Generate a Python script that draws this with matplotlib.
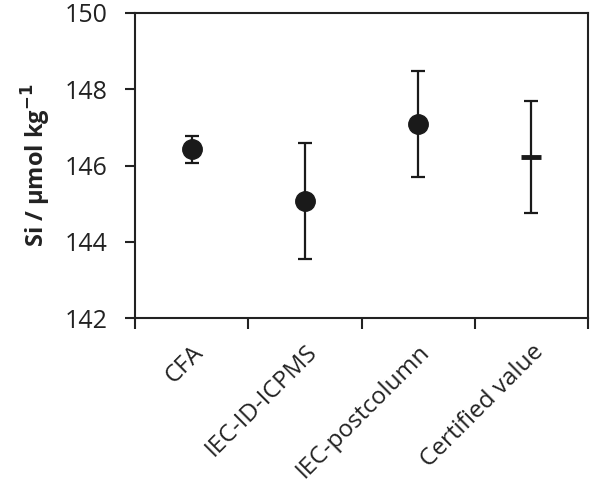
import matplotlib.pyplot as plt
import numpy as np

# Si measurements by method
methods = ["CFA", "IEC-ID-ICPMS", "IEC-postcolumn", "Certified value"]
si_values = [146.42, 145.06, 147.09, 146.22]
si_err = [0.35, 1.52, 1.40, 1.47]

plt.rcParams['font.family'] = ['Open Sans', 'DejaVu Sans']

fig = plt.figure(figsize=(5.93, 4.96), dpi=100)
ax = fig.add_axes([135 / 593, 1 - 318 / 496, (588 - 135) / 593, (318 - 13) / 496])

x = np.arange(len(methods)) + 0.5

# measured methods as circles
for i in range(3):
    ax.errorbar(x[i], si_values[i], yerr=si_err[i], fmt='o', color='#1a1a1a',
                markersize=14, elinewidth=1.6, capsize=5, capthick=1.6, zorder=3)

# certified value as a dash
ax.errorbar(x[3], si_values[3], yerr=si_err[3], fmt='none', ecolor='#1a1a1a',
            elinewidth=1.6, capsize=5, capthick=1.6, zorder=3)
ax.plot(x[3], si_values[3], marker='_', color='#1a1a1a', markersize=14,
        markeredgewidth=3.5, zorder=4)

ax.set_xlim(0, 4)
ax.set_ylim(142, 150)
ax.set_yticks([142, 144, 146, 148, 150])
ax.set_xticks([0, 1, 2, 3, 4])
ax.set_xticklabels([])
ax.set_xticks(x, minor=True)
ax.set_xticklabels(methods, minor=True, rotation=45, ha='right', va='top',
                   rotation_mode='anchor', fontsize=17.5, color='#222222')
ax.tick_params(axis='x', which='minor', length=0, pad=16)
ax.tick_params(axis='x', which='major', direction='out', length=8, width=1.5, color='#222222')
ax.tick_params(axis='y', direction='out', length=7, width=1.5, color='#222222',
               labelsize=18, labelcolor='#222222', pad=13)

for s in ax.spines.values():
    s.set_linewidth(1.5)
    s.set_color('#222222')

ax.set_ylabel("Si / μmol kg$^{\\mathbf{-1}}$", fontsize=17, fontweight='bold',
              color='#222222', labelpad=8)

fig.savefig("out.png", dpi=100)
